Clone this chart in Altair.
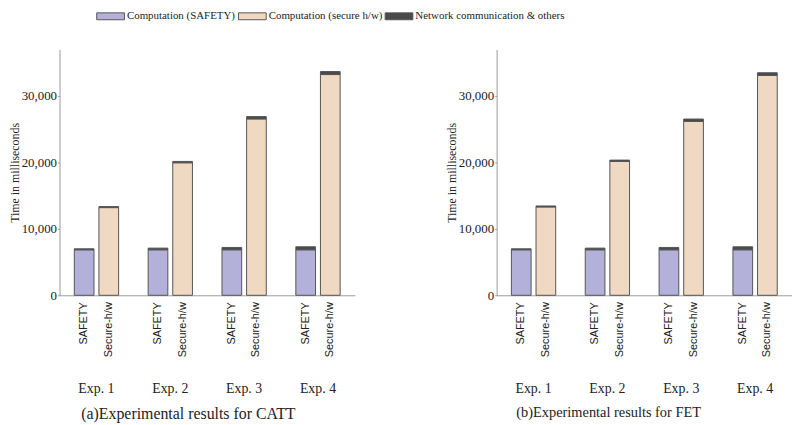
import altair as alt
import pandas as pd

exps = ["Exp. 1", "Exp. 2", "Exp. 3", "Exp. 4"]
systems = ["SAFETY", "Secure-h/w"]
components = ["Computation (SAFETY)", "Computation (secure h/w)", "Network communication & others"]
colors = ["#b3b0d9", "#efd9c3", "#4a4a4a"]

# (a) CATT
catt_safety_comp = [6850, 6850, 6850, 6850]
catt_safety_net = [150, 250, 350, 450]
catt_secure_comp = [13200, 19950, 26550, 33230]
catt_secure_net = [150, 200, 350, 450]

# (b) FET
fet_safety_comp = [6850, 6850, 6850, 6850]
fet_safety_net = [150, 250, 350, 450]
fet_secure_comp = [13300, 20150, 26180, 33100]
fet_secure_net = [150, 200, 350, 400]

captions = ["(a)Experimental results for CATT", "(b)Experimental results for FET"]
y_ticks = [0, 10000, 20000, 30000]

SERIF = "Liberation Serif"
SANS = "Liberation Sans"
W, H = 298, 248


def make_df(sc, sn, hc, hn):
    rows = []
    for i, e in enumerate(exps):
        rows.append(dict(exp=e, system="SAFETY", component=components[0], value=sc[i], rank=0))
        rows.append(dict(exp=e, system="SAFETY", component=components[2], value=sn[i], rank=1))
        rows.append(dict(exp=e, system="Secure-h/w", component=components[1], value=hc[i], rank=0))
        rows.append(dict(exp=e, system="Secure-h/w", component=components[2], value=hn[i], rank=1))
    return pd.DataFrame(rows)


labels_df = pd.DataFrame([dict(exp=e, system=s) for e in exps for s in systems])


def panel(df, caption, dx, cap_size):
    x = alt.X(
        "exp:N",
        sort=exps,
        scale=alt.Scale(paddingInner=0.4, paddingOuter=0.2),
        axis=alt.Axis(
            title=None, labelAngle=0, ticks=False, domainColor="#9a9a9a",
            labelFont=SERIF, labelFontSize=14, labelColor="#222",
            labelPadding=87,
        ),
    )
    xo = alt.XOffset("system:N", sort=systems,
                     scale=alt.Scale(paddingInner=0.2, paddingOuter=0))
    bars = alt.Chart(df).mark_bar(stroke="#555555", strokeWidth=1).encode(
        x=x,
        xOffset=xo,
        y=alt.Y(
            "value:Q",
            stack="zero",
            scale=alt.Scale(domain=[0, 37000], nice=False),
            axis=alt.Axis(
                title="Time in milliseconds", values=y_ticks, format=",.0f",
                grid=False, domainColor="#9a9a9a", tickColor="#9a9a9a",
                tickSize=2, labelFont=SERIF, labelFontSize=13, labelColor="#222",
                labelPadding=1, titleFont=SERIF, titleFontSize=12,
                titleFontWeight="normal", titleColor="#222", titlePadding=0,
            ),
        ),
        color=alt.Color(
            "component:N",
            scale=alt.Scale(domain=components, range=colors),
            legend=alt.Legend(
                title=None, orient="none", legendX=37, legendY=-40,
                direction="horizontal",
                symbolType="M-2.33,-0.58H2.33V0.58H-2.33Z",
                symbolSize=144, symbolStrokeColor="#555555",
                symbolStrokeWidth=1, symbolOpacity=1,
                symbolOffset=8, labelOffset=10, columnPadding=0,
                labelFont=SERIF, labelFontSize=11, labelColor="#222",
            ),
        ),
        order=alt.Order("rank:Q"),
    )
    text = alt.Chart(labels_df).mark_text(
        angle=270, align="right", baseline="middle",
        font=SANS, fontSize=11, color="#222",
    ).encode(
        x=alt.X("exp:N", sort=exps),
        xOffset=alt.XOffset("system:N", sort=systems),
        y=alt.value(H + 7),
        text="system:N",
    )
    return alt.layer(bars, text).properties(
        width=W, height=H,
        title=alt.TitleParams(
            caption, orient="bottom", anchor="middle", frame="group",
            dx=dx, offset=11, font=SERIF, fontSize=cap_size,
            fontWeight="normal", color="#222",
        ),
    )


left = panel(make_df(catt_safety_comp, catt_safety_net, catt_secure_comp, catt_secure_net),
             captions[0], -19, 16)
right = panel(make_df(fet_safety_comp, fet_safety_net, fet_secure_comp, fet_secure_net),
              captions[1], -36, 14.5)

chart = alt.hconcat(left, right, spacing=91).properties(padding=0).configure_view(stroke=None)

chart.save("out.html", embed_options={"renderer": "svg", "actions": False})
